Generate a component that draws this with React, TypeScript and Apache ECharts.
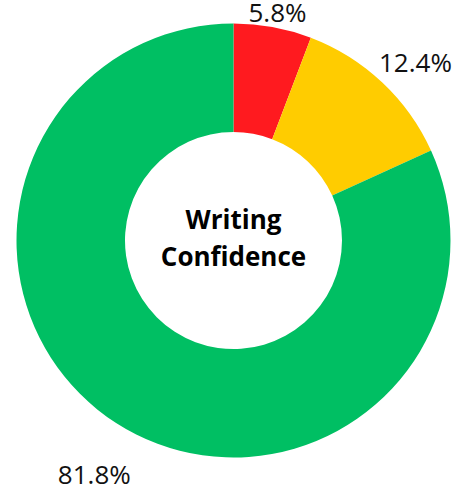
import React, { useEffect, useRef } from "react";
import * as echarts from "echarts";

const categories = ["Low", "Medium", "High"];
const values = [5.8, 12.4, 81.8];
const colors = ["#ff1a1f", "#ffcc00", "#00bf63"];
const labelPadding = [
  [0, 0, 130, 28],
  [0, 0, 116, 137],
  [189, 99, 0, 0],
];
const centerTitle = "Writing\nConfidence";

export default function App() {
  const ref = useRef<HTMLDivElement>(null);
  useEffect(() => {
    if (!ref.current) return;
    const chart = echarts.init(ref.current, null, { renderer: "svg" });
    chart.setOption({
      animation: false,
      backgroundColor: "#ffffff",
      graphic: [
        {
          type: "text",
          x: 233.5,
          y: 237,
          style: {
            text: centerTitle,
            fontFamily: "Open Sans",
            fontWeight: "bold",
            fontSize: 26,
            lineHeight: 37,
            fill: "#000000",
            align: "center",
            verticalAlign: "middle",
          },
        },
      ],
      series: [
        {
          type: "pie",
          center: [233.5, 240.5],
          radius: [108.5, 217],
          startAngle: 90,
          clockwise: true,
          avoidLabelOverlap: false,
          labelLine: { show: false },
          itemStyle: { borderWidth: 0 },
          emphasis: { disabled: true },
          data: categories.map((name, i) => ({
            name,
            value: values[i],
            itemStyle: { color: colors[i] },
            label: {
              show: true,
              position: "inside",
              formatter: "{v|" + values[i].toFixed(1) + "%}",
              padding: labelPadding[i],
              rich: {
                v: {
                  fontFamily: "Open Sans",
                  fontSize: 26,
                  color: "#111111",
                },
              },
            },
          })),
        },
      ],
    });
    return () => chart.dispose();
  }, []);
  return (
    <div
      ref={ref}
      style={{ position: "fixed", left: 0, top: 0, width: 453, height: 487 }}
    />
  );
}
